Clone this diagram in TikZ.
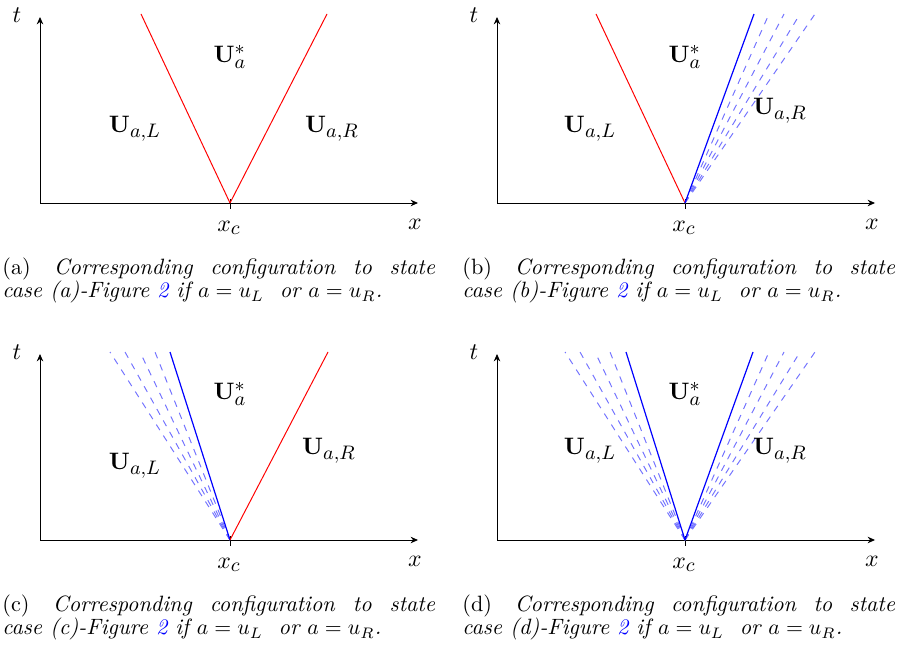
\documentclass[tikz,border=0pt]{standalone}
\usepackage{xcolor}
\usetikzlibrary{arrows.meta,calc}
\DeclareMathSizes{11.4}{11.4}{9.4}{7}
\newcommand{\lblfont}{\fontsize{11.4}{13}\selectfont}
\newcommand{\capfont}{\fontsize{10.2}{11}\selectfont}
\begin{document}
\begin{tikzpicture}[x=0.46pt,y=-0.46pt,
  axisline/.style={line width=0.45pt,-{Stealth[length=3.4pt,width=3pt]}},
  shockline/.style={red,line width=0.45pt},
  rareline/.style={blue,line width=0.55pt},
  fanline/.style={blue!55,dashed,line width=0.45pt},
  lbl/.style={inner sep=0pt,font=\lblfont},
  captext/.style={anchor=north west,text width=199pt,align=justify,inner sep=0pt,font=\capfont}]
\useasboundingbox (0,0) rectangle (897,646);

% ---------- panel (a)
\begin{scope}
  \coordinate (ao) at (40,203); \coordinate (ax) at (418,203); \coordinate (at) at (40,17);
  \coordinate (ac) at (230,203);
  \coordinate (act) at (230,199); \coordinate (acb) at (230,209);
  \draw[axisline] (ao) -- (ax); \draw[axisline] (ao) -- (at);
  \draw[line width=0.45pt] (act) -- (acb);
  \coordinate (aL) at (141,14); \coordinate (aR) at (327,14);
  \draw[shockline] (ac) -- (aL); \draw[shockline] (ac) -- (aR);
  \node[lbl] (atl) at (17,15) {$t$};
  \node[lbl] (axl) at (415,224) {$x$};
  \node[lbl] (acl) at (229,228) {$x_c$};
  \node[lbl] (aUs) at (230,57) {$\mathbf{U}_a^*$};
  \node[lbl] (aUL) at (135,129) {$\mathbf{U}_{a,L}$};
  \node[lbl] (aUR) at (332,129) {$\mathbf{U}_{a,R}$};
  \node[captext] (acap) at (2,257) {(a)\hspace{3pt} \textit{Corresponding configuration to state\linebreak case (a)-Figure \textcolor{blue}{2} if $a=u_L$\ \ or $a=u_R$.}};
\end{scope}

% ---------- panel (b)
\begin{scope}
  \coordinate (bo) at (497,203); \coordinate (bx) at (875,203); \coordinate (bt) at (497,17);
  \coordinate (bc) at (685,203);
  \coordinate (bct) at (685,199); \coordinate (bcb) at (685,209);
  \draw[axisline] (bo) -- (bx); \draw[axisline] (bo) -- (bt);
  \draw[line width=0.45pt] (bct) -- (bcb);
  \coordinate (bL) at (596,14); \coordinate (bR) at (754,14);
  \draw[shockline] (bc) -- (bL);
  \foreach \d [count=\i] in {84,99,115,130}{
    \coordinate (bf\i) at (685+\d,14);
    \draw[fanline] (bc) -- (bf\i);
  }
  \draw[rareline] (bc) -- (bR);
  \node[lbl] (btl) at (474,15) {$t$};
  \node[lbl] (bxl) at (872,224) {$x$};
  \node[lbl] (bcl) at (684,228) {$x_c$};
  \node[lbl] (bUs) at (685,57) {$\mathbf{U}_a^*$};
  \node[lbl] (bUL) at (590,129) {$\mathbf{U}_{a,L}$};
  \node[lbl] (bUR) at (780,111) {$\mathbf{U}_{a,R}$};
  \node[captext] (bcap) at (462,257) {(b)\hspace{3pt} \textit{Corresponding configuration to state\linebreak case (b)-Figure \textcolor{blue}{2} if $a=u_L$\ \ or $a=u_R$.}};
\end{scope}

% ---------- panel (c)
\begin{scope}
  \coordinate (co) at (40,540); \coordinate (cx) at (418,540); \coordinate (ct) at (40,354);
  \coordinate (cc) at (230,540);
  \coordinate (cct) at (230,536); \coordinate (ccb) at (230,546);
  \draw[axisline] (co) -- (cx); \draw[axisline] (co) -- (ct);
  \draw[line width=0.45pt] (cct) -- (ccb);
  \coordinate (cL) at (170,352); \coordinate (cR) at (328,352);
  \foreach \d [count=\i] in {75,90,105,120}{
    \coordinate (cf\i) at (230-\d,352);
    \draw[fanline] (cc) -- (cf\i);
  }
  \draw[rareline] (cc) -- (cL);
  \draw[shockline] (cc) -- (cR);
  \node[lbl] (ctl) at (17,352) {$t$};
  \node[lbl] (cxl) at (415,561) {$x$};
  \node[lbl] (ccl) at (229,565) {$x_c$};
  \node[lbl] (cUs) at (230,394) {$\mathbf{U}_a^*$};
  \node[lbl] (cUL) at (135,466) {$\mathbf{U}_{a,L}$};
  \node[lbl] (cUR) at (329,451) {$\mathbf{U}_{a,R}$};
  \node[captext] (ccap) at (2,594) {(c)\hspace{3pt} \textit{Corresponding configuration to state\linebreak case (c)-Figure \textcolor{blue}{2} if $a=u_L$\ \ or $a=u_R$.}};
\end{scope}

% ---------- panel (d)
\begin{scope}
  \coordinate (do) at (497,540); \coordinate (dx) at (875,540); \coordinate (dt) at (497,354);
  \coordinate (dc) at (685,540);
  \coordinate (dct) at (685,536); \coordinate (dcb) at (685,546);
  \draw[axisline] (do) -- (dx); \draw[axisline] (do) -- (dt);
  \draw[line width=0.45pt] (dct) -- (dcb);
  \coordinate (dL) at (626,352); \coordinate (dR) at (753,352);
  \foreach \d [count=\i] in {75,90,105,120}{
    \coordinate (dfl\i) at (685-\d,352);
    \draw[fanline] (dc) -- (dfl\i);
  }
  \foreach \d [count=\i] in {84,99,115,130}{
    \coordinate (dfr\i) at (685+\d,352);
    \draw[fanline] (dc) -- (dfr\i);
  }
  \draw[rareline] (dc) -- (dL);
  \draw[rareline] (dc) -- (dR);
  \node[lbl] (dtl) at (474,352) {$t$};
  \node[lbl] (dxl) at (872,561) {$x$};
  \node[lbl] (dcl) at (684,565) {$x_c$};
  \node[lbl] (dUs) at (685,394) {$\mathbf{U}_a^*$};
  \node[lbl] (dUL) at (590,451) {$\mathbf{U}_{a,L}$};
  \node[lbl] (dUR) at (780,451) {$\mathbf{U}_{a,R}$};
  \node[captext] (dcap) at (462,594) {(d)\hspace{3pt} \textit{Corresponding configuration to state\linebreak case (d)-Figure \textcolor{blue}{2} if $a=u_L$\ \ or $a=u_R$.}};
\end{scope}
\end{tikzpicture}
\end{document}
